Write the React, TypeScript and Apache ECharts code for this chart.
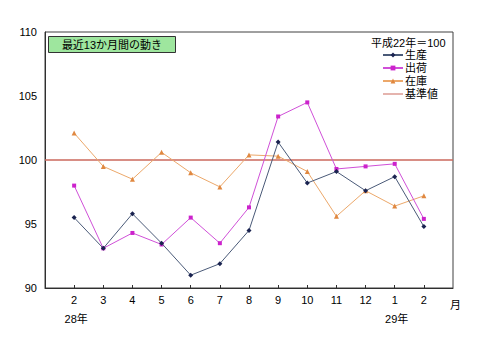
import React, { useEffect, useRef } from "react";
import * as echarts from "echarts";

const months = ["2", "3", "4", "5", "6", "7", "8", "9", "10", "11", "12", "1", "2"];
const yearLabels = ["28年", "", "", "", "", "", "", "", "", "", "", "29年", ""];
const production = [95.5, 93.1, 95.8, 93.5, 91.0, 91.9, 94.5, 101.4, 98.2, 99.1, 97.6, 98.7, 94.8];
const shipment = [98.0, 93.1, 94.3, 93.4, 95.5, 93.5, 96.3, 103.4, 104.5, 99.3, 99.5, 99.7, 95.4];
const inventory = [102.1, 99.5, 98.5, 100.6, 99.0, 97.9, 100.4, 100.3, 99.1, 95.6, 97.6, 96.4, 97.2];
const baseValue = 100;
const seriesNames = ["生産", "出荷", "在庫", "基準値"];
const titleText = "最近13か月間の動き";
const baseNote = "平成22年＝100";
const monthUnit = "月";

const FONT = "'Liberation Sans', 'Noto Sans CJK JP', sans-serif";
const LINE_ICON =
  "path://M0,2.4 L20,2.4 L20,3.6 L0,3.6 Z M0,0 L0.01,0 L0.01,0.01 Z M19.99,6 L20,6 L20,5.99 Z";

export default function App() {
  const ref = useRef<HTMLDivElement>(null);
  useEffect(() => {
    if (!ref.current) return;
    const chart = echarts.init(ref.current, undefined, { renderer: "svg" });
    const cats = ["", ...months, ""];
    const pad = (a: number[]) => [null, ...a, null];
    const baseline = cats.map(() => baseValue);
    chart.setOption({
      animation: false,
      backgroundColor: "#ffffff",
      textStyle: { fontFamily: FONT },
      grid: {
        left: 45,
        right: 27,
        top: 32,
        bottom: 63,
        show: true,
        borderColor: "#404040",
        borderWidth: 1,
      },
      legend: {
        orient: "vertical",
        left: 382,
        top: 49,
        itemWidth: 20,
        itemHeight: 6,
        itemGap: 1,
        padding: 0,
        textStyle: { fontSize: 11, color: "#000", fontFamily: FONT, lineHeight: 12, padding: [0, 0, 0, -3] },
        data: [
          seriesNames[0],
          seriesNames[1],
          seriesNames[2],
          { name: seriesNames[3], icon: LINE_ICON, itemStyle: { color: "#cc6a5e" } },
        ],
      },
      xAxis: {
        type: "category",
        data: cats,
        boundaryGap: false,
        axisLine: { lineStyle: { color: "#303030" } },
        axisTick: {
          inside: true,
          length: 3,
          lineStyle: { color: "#303030" },
          interval: (i: number) => i > 0 && i < cats.length - 1,
        },
        axisLabel: {
          interval: 0,
          margin: 4,
          formatter: (v: string, i: number) => {
            if (i === 0 || i === cats.length - 1) return "";
            const y = yearLabels[i - 1];
            return y ? `{m|${v}}\n{y|${y}}` : `{m|${v}}`;
          },
          rich: {
            m: { fontSize: 11, lineHeight: 16, color: "#000", fontFamily: FONT },
            y: { fontSize: 11, lineHeight: 22, color: "#000", fontFamily: FONT, padding: [0, 0, 0, 4] },
          },
        },
        splitLine: { show: false },
      },
      yAxis: {
        type: "value",
        min: 90,
        max: 110,
        interval: 5,
        axisLine: { show: true, lineStyle: { color: "#303030" } },
        axisTick: { show: false },
        splitLine: { show: false },
        axisLabel: { fontSize: 11, color: "#000", margin: 8, fontFamily: FONT },
      },
      series: [
        {
          name: seriesNames[0],
          type: "line",
          data: pad(production),
          symbol: "diamond",
          symbolSize: 5,
          lineStyle: { color: "#4a5a78", width: 1 },
          itemStyle: { color: "#1a2350" },
          z: 5,
        },
        {
          name: seriesNames[1],
          type: "line",
          data: pad(shipment),
          symbol: "rect",
          symbolSize: 4,
          lineStyle: { color: "#d050d8", width: 1 },
          itemStyle: { color: "#cc22cc" },
          z: 4,
        },
        {
          name: seriesNames[2],
          type: "line",
          data: pad(inventory),
          symbol: "triangle",
          symbolSize: 5,
          lineStyle: { color: "#eca86a", width: 1 },
          itemStyle: { color: "#e08840" },
          z: 3,
        },
        {
          name: seriesNames[3],
          type: "line",
          data: baseline,
          symbol: "none",
          lineStyle: { color: "#cc6a5e", width: 1.5 },
          itemStyle: { color: "#cc6a5e" },
          z: 2,
        },
      ],
      graphic: [
        {
          type: "group",
          left: 48,
          top: 36,
          children: [
            {
              type: "rect",
              shape: { x: 0, y: 0, width: 127, height: 16 },
              style: { fill: "#9ee69e", stroke: "#333", lineWidth: 1 },
            },
            {
              type: "text",
              x: 63.5,
              y: 8.5,
              style: {
                text: titleText,
                fontSize: 11,
                fontFamily: FONT,
                fill: "#000",
                align: "center",
                verticalAlign: "middle",
              },
            },
          ],
        },
        {
          type: "text",
          left: 371,
          top: 37,
          style: { text: baseNote, fontSize: 11, fontFamily: FONT, fill: "#000" },
        },
        {
          type: "text",
          left: 450,
          top: 299,
          style: { text: monthUnit, fontSize: 11, fontFamily: FONT, fill: "#000" },
        },
      ],
    });
    return () => chart.dispose();
  }, []);
  return <div ref={ref} style={{ width: 480, height: 351, position: "absolute", left: 0, top: 0 }} />;
}
